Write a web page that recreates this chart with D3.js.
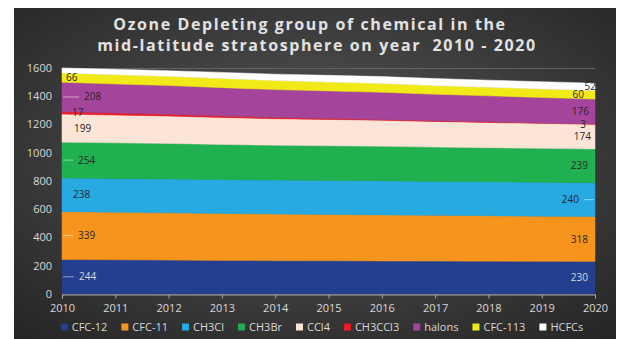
<!DOCTYPE html>
<html>
<head>
<meta charset="utf-8">
<script src="https://cdn.jsdelivr.net/npm/d3@7"></script>
<style>
  body { margin: 0; background: #fff; }
  svg { display: block; font-family: "Open Sans", sans-serif; }
</style>
</head>
<body>
<svg width="625" height="339"></svg>
<script>
// chart data (2010 and 2020 values are labelled)
var years = [2010, 2011, 2012, 2013, 2014, 2015, 2016, 2017, 2018, 2019, 2020];
var keys = ["CFC-12", "CFC-11", "CH3Cl", "CH3Br", "CCl4", "CH3CCl3", "halons", "CFC-113", "HCFCs"];
var cfc12   = [244, 242, 240, 238, 236, 235, 234, 233, 232, 231, 230];
var cfc11   = [339, 337, 335, 332, 330, 328, 326, 324, 322, 320, 318];
var ch3cl   = [238, 238, 239, 240, 241, 241, 241, 240, 240, 240, 240];
var ch3br   = [254, 253, 252, 249, 246, 246, 245, 243, 242, 240, 239];
var ccl4    = [199, 197, 194, 191, 188, 186, 184, 181, 179, 177, 174];
var ch3ccl3 = [17, 14, 12, 10, 8, 7, 6, 5, 4, 3, 3];
var halons  = [208, 206, 204, 201, 198, 195, 192, 188, 184, 180, 176];
var cfc113  = [66, 66, 65, 65, 64, 63, 63, 62, 61, 61, 60];
var hcfcs   = [35, 38, 40, 43, 45, 47, 48, 49, 50, 51, 52];
var yTicks = [0, 200, 400, 600, 800, 1000, 1200, 1400, 1600];

var seriesValues = [cfc12, cfc11, ch3cl, ch3br, ccl4, ch3ccl3, halons, cfc113, hcfcs];
var colors = ["#243f8f", "#f7941d", "#27a9e1", "#21b04f", "#fce4d6", "#ed1c24", "#a4449a", "#f2e918", "#ffffff"];

// label styling: horizontal nudges from the 2010 / 2020 points
var leftDx     = [17, 16, 11, 16, 12, 10, 22, 4, null];
var leftLeader = [true, true, false, true, true, false, true, false, false];
var rightDx    = [-7, -7, -16, -7, -4, -9, -6, -11, 1];
var rightLeader = [false, false, true, false, false, false, false, false, false];
var labelFill  = ["#d9d9d9", "#262626", "#262626", "#262626", "#262626", "#262626", "#262626", "#262626", "#262626"];

var table = years.map(function(y, i) {
  var row = { year: y };
  keys.forEach(function(k, j) { row[k] = seriesValues[j][i]; });
  return row;
});

var svg = d3.select("svg"),
    width = +svg.attr("width"),
    height = +svg.attr("height"),
    margin = { left: 62, right: 30, top: 68, bottom: 45 };

// dark chart background
var defs = svg.append("defs");
var grad = defs.append("radialGradient").attr("id", "bg")
    .attr("cx", "50%").attr("cy", "45%").attr("r", "75%");
grad.append("stop").attr("offset", "0%").attr("stop-color", "#585858");
grad.append("stop").attr("offset", "100%").attr("stop-color", "#242424");
svg.append("rect").attr("x", 14).attr("y", 8).attr("width", 602).attr("height", 331)
    .attr("fill", "url(#bg)");

// title
var title = svg.append("text").attr("text-anchor", "middle")
    .attr("xml:space", "preserve")
    .attr("fill", "#e2e2e2").style("font-weight", 700).style("font-size", "16px")
    .style("letter-spacing", "1.6px");
title.append("tspan").attr("x", 310).attr("y", 30).text("Ozone Depleting group of chemical in the");
title.append("tspan").attr("x", 317).attr("y", 51).text("mid-latitude stratosphere on year  2010 - 2020");

var x = d3.scaleLinear().domain([2010, 2020]).range([margin.left, width - margin.right]);
var y = d3.scaleLinear().domain([0, 1600]).range([height - margin.bottom, margin.top]);

// gridlines
svg.append("g").selectAll("line").data(yTicks).enter().append("line")
    .attr("x1", x(2010)).attr("x2", x(2020))
    .attr("y1", function(d) { return y(d) + 0.5; }).attr("y2", function(d) { return y(d) + 0.5; })
    .attr("stroke", "#626262").attr("stroke-width", 1);

var stack = d3.stack().keys(keys);
var layers = stack(table);

var area = d3.area()
    .x(function(d) { return x(d.data.year); })
    .y0(function(d) { return y(d[0]); })
    .y1(function(d) { return y(d[1]); });

svg.append("g").selectAll("path").data(layers).enter().append("path")
    .attr("d", area)
    .attr("fill", function(d, i) { return colors[i]; })
    .attr("stroke", function(d, i) { return colors[i]; })
    .attr("stroke-width", 0.5);

// y axis labels
svg.append("g").selectAll("text").data(yTicks).enter().append("text")
    .attr("x", margin.left - 10).attr("y", function(d) { return y(d); })
    .attr("dy", "0.35em").attr("text-anchor", "end")
    .attr("fill", "#d9d9d9").style("font-size", "11px")
    .text(function(d) { return d; });

// x axis
var xAxis = svg.append("g")
    .attr("transform", "translate(0," + (y(0) + 0.5) + ")")
    .call(d3.axisBottom(x).tickValues(years).tickFormat(d3.format("d")).tickSize(4).tickPadding(6));
xAxis.select(".domain").attr("stroke", "#a6a6a6");
xAxis.selectAll(".tick line").attr("stroke", "#a6a6a6");
xAxis.selectAll(".tick text").attr("fill", "#d9d9d9").style("font-size", "11px")
    .style("font-family", "'Open Sans', sans-serif");

// data labels at both ends
var lab = svg.append("g").style("font-size", "10px");
layers.forEach(function(layer, i) {
  var first = layer[0], last = layer[layer.length - 1];
  if (leftDx[i] !== null) {
    var ly = y((first[0] + first[1]) / 2);
    if (leftLeader[i]) {
      lab.append("line").attr("x1", x(2010) + 1).attr("x2", x(2010) + leftDx[i] - 5)
          .attr("y1", ly).attr("y2", ly)
          .attr("stroke", "rgba(255,255,255,0.5)").attr("stroke-width", 1);
    }
    lab.append("text").attr("x", x(2010) + leftDx[i]).attr("y", ly).attr("dy", "0.35em")
        .attr("fill", labelFill[i]).text(seriesValues[i][0]);
  }
  var ry = y((last[0] + last[1]) / 2);
  if (rightLeader[i]) {
    lab.append("line").attr("x1", x(2020) + rightDx[i] + 5).attr("x2", x(2020) - 1)
        .attr("y1", ry).attr("y2", ry)
        .attr("stroke", "rgba(255,255,255,0.5)").attr("stroke-width", 1);
  }
  lab.append("text").attr("x", x(2020) + rightDx[i]).attr("y", ry).attr("dy", "0.35em")
      .attr("text-anchor", "end").attr("fill", labelFill[i])
      .text(seriesValues[i][seriesValues[i].length - 1]);
});

// legend, centred under the plot
var legend = svg.append("g").attr("transform", "translate(0,327)");
var items = legend.selectAll("g").data(keys).enter().append("g");
items.append("rect").attr("width", 7).attr("height", 7).attr("y", -3.5)
    .attr("fill", function(d, i) { return colors[i]; });
items.append("text").attr("x", 11).attr("dy", "0.35em")
    .attr("fill", "#d9d9d9").style("font-size", "11px")
    .text(function(d) { return d; });
var pos = 0, gap = 14;
items.each(function() {
  var w = 11 + this.querySelector("text").getComputedTextLength();
  d3.select(this).attr("data-x", pos);
  pos += w + gap;
});
var total = pos - gap, start = 322 - total / 2;
items.attr("transform", function() { return "translate(" + (start + +this.getAttribute("data-x")) + ",0)"; });
</script>
</body>
</html>
